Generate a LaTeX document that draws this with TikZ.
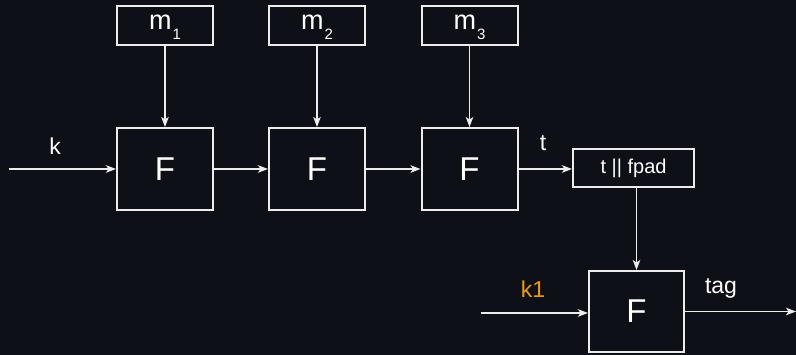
\documentclass[tikz,border=0pt]{standalone}
\usepackage{fontspec}
\setmainfont{Liberation Sans}
\usetikzlibrary{arrows.meta}

\definecolor{bgdark}{RGB}{13,17,23}
\definecolor{linegray}{RGB}{236,236,236}
\definecolor{keyorange}{RGB}{240,155,0}

\newcommand{\msg}[1]{m\kern1pt\raisebox{-10.5pt}[0pt][0pt]{\fontsize{15}{15}\selectfont #1}}

\begin{document}
\begin{tikzpicture}[
x=1pt, y=-1pt,
box/.style={draw=linegray, line width=2pt, fill=bgdark, text=white, inner sep=0pt},
fbox/.style={box, minimum width=96pt, minimum height=82pt, font=\fontsize{33}{33}\selectfont},
msgbox/.style={box, minimum width=96pt, minimum height=39pt, text height=14pt, text depth=6.4pt, font=\fontsize{27}{27}\selectfont},
arr/.style={draw=linegray, line width=1.5pt, -{Stealth[length=10pt,width=7.5pt,inset=2.5pt]}},
lbl/.style={text=white, anchor=base, font=\fontsize{23}{23}\selectfont}
]

%%%%%%%%%%%%%%%%%%%%%%%%%%%%%%%%%%%%%%%%%%%%%%%%%%%%%%
% BACKGROUND
%%%%%%%%%%%%%%%%%%%%%%%%%%%%%%%%%%%%%%%%%%%%%%%%%%%%%%

\fill[bgdark] (0,0) rectangle (796,355);
\useasboundingbox (0,0) rectangle (796,355);

%%%%%%%%%%%%%%%%%%%%%%%%%%%%%%%%%%%%%%%%%%%%%%%%%%%%%%
% MESSAGE BLOCKS
%%%%%%%%%%%%%%%%%%%%%%%%%%%%%%%%%%%%%%%%%%%%%%%%%%%%%%

\node[msgbox] (m1) at (165,25.5) {\msg{1}};
\node[msgbox] (m2) at (317,25.5) {\msg{2}};
\node[msgbox] (m3) at (469.5,25.5) {\msg{3}};

%%%%%%%%%%%%%%%%%%%%%%%%%%%%%%%%%%%%%%%%%%%%%%%%%%%%%%
% CHAIN OF F
%%%%%%%%%%%%%%%%%%%%%%%%%%%%%%%%%%%%%%%%%%%%%%%%%%%%%%

\node[fbox] (f1) at (165,169) {F};
\node[fbox] (f2) at (317,169) {F};
\node[fbox] (f3) at (469.5,169) {F};

\coordinate (kin) at (9,169);
\node[lbl] (klabel) at (55,155) {k};

\draw[arr] (kin) -- (f1.west);
\draw[arr] (f1) -- (f2);
\draw[arr] (f2) -- (f3);

\draw[arr] (m1) -- (f1);
\draw[arr] (m2) -- (f2);
\draw[arr] (m3) -- (f3);

%%%%%%%%%%%%%%%%%%%%%%%%%%%%%%%%%%%%%%%%%%%%%%%%%%%%%%
% PADDING AND FINAL F
%%%%%%%%%%%%%%%%%%%%%%%%%%%%%%%%%%%%%%%%%%%%%%%%%%%%%%

\node[
box,
minimum width=121pt,
minimum height=38pt,
font=\fontsize{20}{20}\selectfont
]
(tpad) at (633.5,168)
{t || fpad};

\node[lbl] (tlabel) at (543,151) {t};
\draw[arr] (f3.east) -- (tpad.west |- f3.east);

\node[fbox, minimum width=95pt, minimum height=81pt] (fin) at (636.5,311.5) {F};

\draw[arr] (fin.north |- tpad.south) -- (fin.north);

\coordinate (k1in) at (481,313);
\node[lbl, text=keyorange] (k1label) at (533,298) {k1};
\draw[arr] (k1in) -- (fin.west |- k1in);

\coordinate (tagout) at (796,311.5);
\node[lbl] (taglabel) at (721,294) {tag};
\draw[arr] (fin.east) -- (tagout);

\end{tikzpicture}
\end{document}
